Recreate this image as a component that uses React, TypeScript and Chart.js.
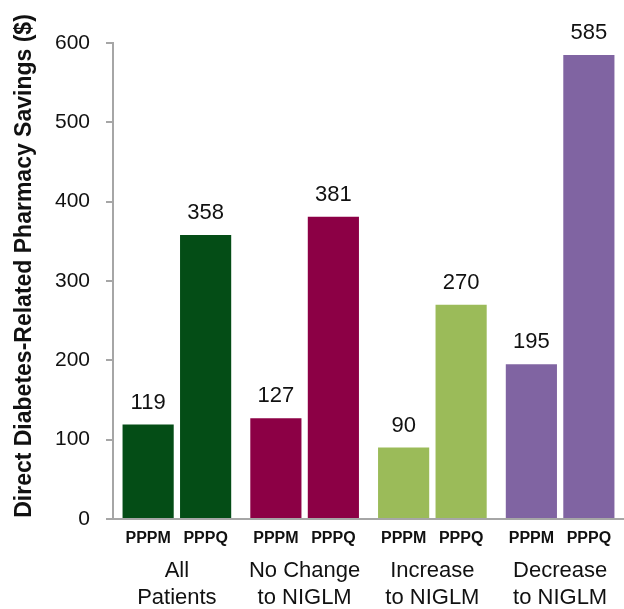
import React, { useEffect, useRef } from "react";
import { Chart, registerables } from "chart.js";

Chart.register(...registerables);

const groups: string[][] = [
  ["All", "Patients"],
  ["No Change", "to NIGLM"],
  ["Increase", "to NIGLM"],
  ["Decrease", "to NIGLM"],
];
const seriesNames = ["PPPM", "PPPQ"];
const pppm = [119, 127, 90, 195];
const pppq = [358, 381, 270, 585];
const groupColors = ["#044d16", "#8c0045", "#9bbb59", "#8064a2"];
const yTitle = "Direct Diabetes-Related Pharmacy Savings ($)";

const FONT = "'Liberation Sans', Arial, sans-serif";

const labelPlugin = {
  id: "barLabels",
  afterDatasetsDraw(chart: any) {
    const ctx = chart.ctx;
    const area = chart.chartArea;
    ctx.save();
    chart.data.datasets.forEach((ds: any, di: number) => {
      const meta = chart.getDatasetMeta(di);
      meta.data.forEach((bar: any, i: number) => {
        ctx.fillStyle = "#111";
        ctx.textAlign = "center";
        ctx.textBaseline = "middle";
        ctx.font = `22px ${FONT}`;
        ctx.fillText(String(ds.data[i]), bar.x, bar.y - 22);
        ctx.font = `bold 16px ${FONT}`;
        ctx.fillText(ds.label, bar.x, area.bottom + 20);
      });
    });
    // y axis title
    ctx.translate(25, area.top + (area.bottom - area.top) / 2 - 15);
    ctx.rotate(-Math.PI / 2);
    ctx.font = `bold 23px ${FONT}`;
    ctx.fillStyle = "#111";
    ctx.textAlign = "center";
    ctx.textBaseline = "middle";
    ctx.fillText(yTitle, 0, 0);
    ctx.restore();
  },
};

export default function App() {
  const ref = useRef<HTMLCanvasElement>(null);
  useEffect(() => {
    if (!ref.current) return;
    const chart = new Chart(ref.current, {
      type: "bar",
      data: {
        labels: groups,
        datasets: [
          {
            label: seriesNames[0],
            data: pppm,
            backgroundColor: groupColors,
            categoryPercentage: 0.9,
            barPercentage: 0.89,
          },
          {
            label: seriesNames[1],
            data: pppq,
            backgroundColor: groupColors,
            categoryPercentage: 0.9,
            barPercentage: 0.89,
          },
        ],
      },
      options: {
        animation: false,
        responsive: false,
        maintainAspectRatio: false,
        layout: { padding: { top: 43, left: 0, right: 0, bottom: 0 } },
        plugins: {
          legend: { display: false },
          tooltip: { enabled: false },
        },
        scales: {
          x: {
            grid: { display: false, drawTicks: false },
            border: { display: true, color: "#a6a6a6", width: 2 },
            ticks: {
              color: "#111",
              padding: 38,
              font: { family: FONT, size: 22, lineHeight: 1.23 },
              maxRotation: 0,
              autoSkip: false,
            },
            afterFit(scale: any) {
              scale.paddingLeft = 0;
              scale.paddingRight = 0;
              scale.height = 90;
            },
          },
          y: {
            min: 0,
            max: 600,
            grid: {
              drawOnChartArea: false,
              drawTicks: true,
              tickLength: 7,
              color: "#a6a6a6",
              lineWidth: 2,
            },
            border: { display: true, color: "#a6a6a6", width: 2 },
            ticks: {
              stepSize: 100,
              color: "#111",
              padding: 16,
              font: { family: FONT, size: 21 },
            },
            afterFit(scale: any) {
              scale.width = 113;
              scale.paddingTop = 0;
              scale.paddingBottom = 0;
            },
          },
        },
      },
      plugins: [labelPlugin],
    });
    return () => chart.destroy();
  }, []);
  return (
    <div style={{ position: "fixed", left: 0, top: 0, width: 624, height: 609, background: "#fff" }}>
      <canvas ref={ref} width={624} height={609} style={{ width: 624, height: 609 }} />
    </div>
  );
}
